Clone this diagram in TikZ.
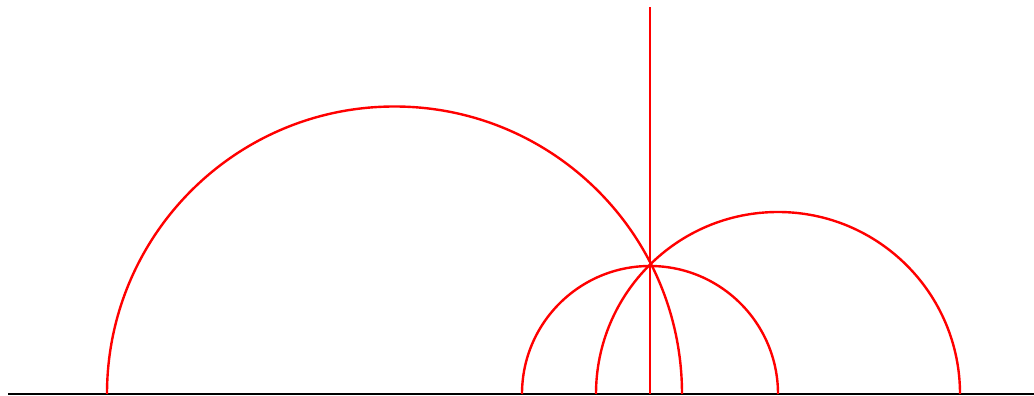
\documentclass[tikz,border=0pt]{standalone}
\begin{document}
\begin{tikzpicture}[x=1pt,y=1pt,
  geo/.style={red,line width=2.4pt},
  axis/.style={black,line width=2.2pt}]
\useasboundingbox (0,0) rectangle (1034,396);
\coordinate (L) at (8,2);
\coordinate (R) at (1034,2);
\coordinate (P) at (650,134);
\coordinate (T) at (650,389);
\coordinate (B) at (650,2);
\draw[axis] (L) -- (R);
\draw[geo] (B) -- (T);
% big geodesic
\draw[geo] (107,2) arc[start angle=180,end angle=0,radius=287.5];
% middle geodesic centered below P
\draw[geo] (522,2) arc[start angle=180,end angle=0,radius=128];
% right geodesic
\draw[geo] (596,2) arc[start angle=180,end angle=0,radius=182];
\end{tikzpicture}
\end{document}
